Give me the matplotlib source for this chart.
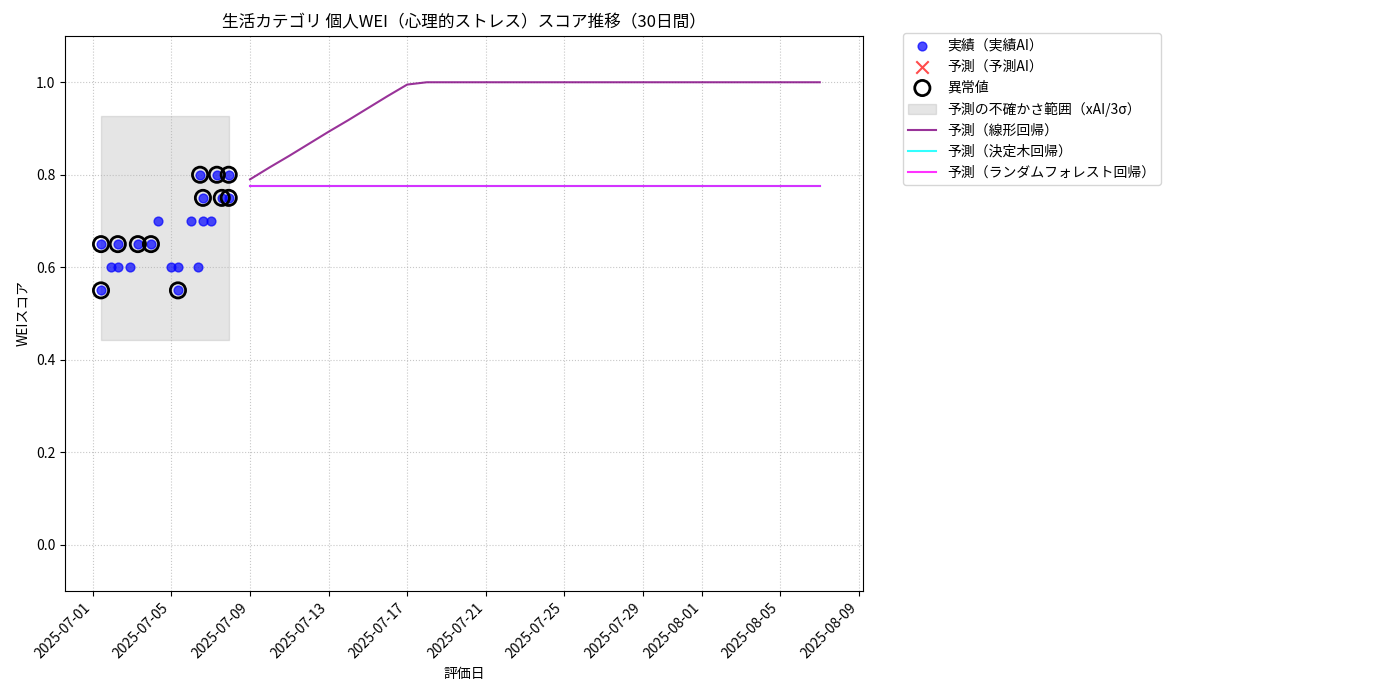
import matplotlib
matplotlib.use("Agg")
import matplotlib.pyplot as plt
import matplotlib.dates as mdates
import pandas as pd
import numpy as np

plt.rcParams['font.family'] = ['Noto Sans CJK JP', 'DejaVu Sans']

actual_dates = ["2025-07-01 10:00", "2025-07-01 10:00", "2025-07-01 22:00", "2025-07-02 06:30", "2025-07-02 06:30",
                "2025-07-02 22:00", "2025-07-03 07:00", "2025-07-03 23:00", "2025-07-04 07:30", "2025-07-04 23:00",
                "2025-07-05 08:00", "2025-07-05 08:00", "2025-07-05 23:50", "2025-07-06 08:00", "2025-07-06 11:00",
                "2025-07-06 14:30", "2025-07-06 14:30", "2025-07-07 00:00", "2025-07-07 07:30", "2025-07-07 13:30",
                "2025-07-07 22:00", "2025-07-07 22:00"]
actual_vals = [0.55, 0.65, 0.60, 0.60, 0.65,
               0.60, 0.65, 0.65, 0.70, 0.60,
               0.60, 0.55, 0.70, 0.60, 0.80,
               0.75, 0.70, 0.70, 0.80, 0.75,
               0.80, 0.75]
anomaly = [1, 1, 0, 0, 1,
           0, 1, 1, 0, 0,
           0, 1, 0, 0, 1,
           1, 0, 0, 1, 1,
           1, 1]

band_start, band_end = "2025-07-01 10:00", "2025-07-07 22:00"
band_low, band_high = 0.443, 0.928

fc_start = "2025-07-09"
lin_vals = [0.790, 0.816, 0.841, 0.867, 0.893, 0.918, 0.944, 0.970, 0.995, 1.0,
            1.0, 1.0, 1.0, 1.0, 1.0, 1.0, 1.0, 1.0, 1.0, 1.0,
            1.0, 1.0, 1.0, 1.0, 1.0, 1.0, 1.0, 1.0, 1.0, 1.0]
tree_vals = [0.775] * 30
rf_vals = [0.775] * 30

ad = pd.to_datetime(actual_dates)
av = np.array(actual_vals)
an = np.array(anomaly, bool)
fd = pd.date_range(fc_start, periods=len(lin_vals), freq="D")

fig = plt.figure(figsize=(14, 7), dpi=100)
ax = fig.add_axes([65/1400, 1-591/700, 798/1400, 555/700])

ax.scatter(ad, av, color='blue', alpha=0.7, s=40, label='実績（実績AI）', zorder=3)
ax.scatter([], [], color='red', marker='x', s=80, alpha=0.7, label='予測（予測AI）')
ax.scatter(ad[an], av[an], facecolors='none', edgecolors='black', s=120, linewidths=2, label='異常値', zorder=4)
ax.fill_between(pd.to_datetime([band_start, band_end]), band_low, band_high, color='gray', alpha=0.2,
                label='予測の不確かさ範囲（xAI/3σ）')
ax.plot(fd, lin_vals, color='purple', alpha=0.8, label='予測（線形回帰）')
ax.plot(fd, tree_vals, color='cyan', alpha=0.8, label='予測（決定木回帰）')
ax.plot(fd, rf_vals, color='magenta', alpha=0.8, label='予測（ランダムフォレスト回帰）')

ax.set_ylim(-0.1, 1.1)
ax.set_xlim(pd.Timestamp("2025-07-01") - pd.Timedelta(hours=34), pd.Timestamp("2025-07-01") + pd.Timedelta(days=39.2))
ax.xaxis.set_major_locator(mdates.AutoDateLocator())
ax.xaxis.set_major_formatter(mdates.DateFormatter('%Y-%m-%d'))
plt.setp(ax.get_xticklabels(), rotation=45, ha='right')
ax.grid(True, linestyle=':', alpha=0.7)
ax.set_title('生活カテゴリ 個人WEI（心理的ストレス）スコア推移（30日間）', fontsize=12)
ax.set_xlabel('評価日')
ax.set_ylabel('WEIスコア')
ax.legend(loc='upper left', bbox_to_anchor=(1.05, 1.005), borderaxespad=0.)
fig.savefig('out.png', dpi=100)
